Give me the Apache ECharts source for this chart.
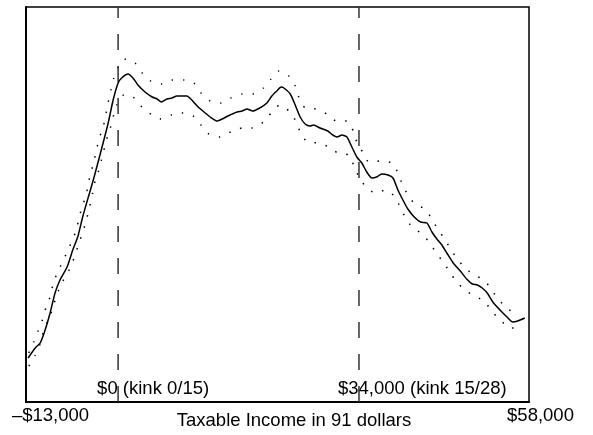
<!DOCTYPE html>
<html>
<head>
<meta charset="utf-8">
<title>Taxable Income in 91 dollars</title>
<script src="https://cdn.jsdelivr.net/npm/echarts@6/dist/echarts.min.js"></script>
<style>
    html, body { margin: 0; padding: 0; background: #fff; }
    #main { width: 593px; height: 435px; }
</style>
</head>
<body>
<div id="main"></div>
<script type="text/javascript">
    // income in thousands of 1991 dollars, density in plot units (no y scale shown)
    var estimate = [
        [-12.7,44],[-11.7,54],[-11.0,59],[-10.3,72],[-9.6,89],[-8.9,109],[-8.2,122],[-7.2,135],
        [-6.4,152],[-5.7,165],[-5.0,185],[-4.2,205],[-3.5,222],[-2.3,254],[-1.4,279],[-0.7,302],
        [0.0,319],[0.5,324],[1.4,328],[2.1,324],[2.8,317],[3.8,310],[4.8,305],[5.5,303],
        [6.1,300],[6.9,303],[7.6,304],[8.3,306],[9.0,306],[9.7,306],[10.4,302],[11.3,295],
        [12.3,289],[13.0,285],[14.0,281],[14.7,283],[15.5,286],[16.8,290],[17.5,291],[18.2,293],
        [19.0,291],[20.0,294],[21.0,299],[21.7,306],[22.4,311],[23.0,315],[23.4,314],[24.3,308],
        [25.0,297],[25.7,285],[26.4,278],[27.1,276],[27.6,277],[28.5,274],[29.6,271],[30.3,267],
        [30.9,265],[31.6,267],[32.3,265],[33.0,255],[33.7,245],[34.4,239],[35.1,230],[35.8,224],
        [36.5,225],[37.2,228],[38.1,227],[38.8,224],[39.5,212],[40.2,202],[40.9,193],[41.8,185],
        [42.7,180],[43.6,179],[44.3,170],[45.0,163],[45.7,157],[46.4,149],[47.3,139],[48.3,131],
        [49.2,123],[50.0,118],[50.7,117],[51.4,114],[52.1,109],[52.9,100],[53.9,92],[54.9,85],
        [55.7,80],[56.4,81],[57.4,84]
    ];
    var upperBand = [
        [-12.6,49],[-11.9,60],[-11.3,71],[-10.7,82],[-10.2,94],[-9.6,105],[-9.2,117],[-8.6,129],
        [-7.9,139],[-7.2,150],[-6.5,161],[-5.9,172],[-5.5,184],[-5.1,195],[-4.5,207],[-4.2,219],
        [-3.8,230],[-3.4,241],[-3.0,254],[-2.6,265],[-2.1,275],[-1.7,289],[-1.4,300],[-1.0,312],
        [-0.6,324],[0.1,336],[1.1,343],[2.4,339],[3.4,329],[4.6,321],[6.2,318],[7.7,322],
        [9.3,322],[10.7,319],[11.7,309],[13.0,301],[14.5,299],[15.9,304],[17.5,308],[19.0,308],
        [20.5,314],[21.6,323],[22.7,331],[24.1,326],[25.0,316],[25.5,305],[26.4,294],[27.9,293],
        [29.5,288],[30.8,281],[32.3,281],[33.2,271],[33.7,260],[34.6,249],[35.4,240],[37.1,241],
        [38.7,239],[39.5,229],[40.1,218],[40.9,207],[41.9,198],[43.3,193],[44.3,183],[45.1,173],
        [46.1,163],[47.0,152],[48.0,142],[49.1,133],[50.4,127],[51.8,121],[52.8,111],[53.8,102],
        [54.9,93],[56.4,89]
    ];
    var lowerBand = [
        [-12.6,36],[-11.7,47],[-11.0,58],[-10.6,69],[-10.0,80],[-9.3,92],[-8.8,104],[-8.2,115],
        [-7.5,125],[-6.6,136],[-6.1,147],[-5.5,159],[-5.0,170],[-4.5,181],[-4.1,193],[-3.7,205],
        [-3.4,217],[-2.8,230],[-2.4,241],[-2.0,252],[-1.6,263],[-1.1,274],[-0.7,285],[-0.2,297],
        [0.8,307],[2.1,305],[3.2,296],[4.4,289],[5.9,283],[7.5,287],[9.0,289],[10.6,286],
        [11.7,277],[12.8,268],[14.4,265],[15.9,270],[17.5,274],[19.0,274],[20.5,280],[21.6,289],
        [22.8,297],[24.1,291],[25.1,281],[25.7,270],[26.7,260],[28.2,259],[29.8,255],[31.0,249],
        [32.6,247],[33.3,236],[34.0,225],[35.0,215],[36.3,209],[37.8,212],[39.1,205],[39.8,195],
        [40.6,184],[41.5,175],[42.9,168],[44.0,159],[44.9,149],[45.9,140],[46.8,130],[47.8,120],
        [49.1,111],[50.4,106],[51.8,100],[52.8,90],[54.0,82],[55.2,74],[56.7,74]
    ];
    var kinks = [0, 34];
    var kinkLabels = ['$0 (kink 0/15)', '$34,000 (kink 15/28)'];
    var tickValues = [-13, 58];
    var tickLabels = ['\u2013$13,000', '$58,000'];
    var xTitle = 'Taxable Income in 91 dollars';

    var yMax = 395;
    var font = "'Liberation Sans', Arial, Helvetica, sans-serif";
    var fs = 18.5;

    var series = [];
    // dotted confidence band
    [upperBand, lowerBand].forEach(function (band) {
        series.push({
            type: 'line', data: band, symbol: 'none', smooth: 0.2, silent: true,
            lineStyle: { color: '#000', width: 1.5, type: [1.5, 10] }
        });
    });
    // dashed kink lines
    kinks.forEach(function (k) {
        series.push({
            type: 'line', data: [[k, 0], [k, yMax]], symbol: 'none', silent: true,
            lineStyle: { color: '#333', width: 1.5, type: [16, 16] }
        });
    });
    // kernel estimate
    series.push({
        type: 'line', data: estimate, symbol: 'none', smooth: 0.2, silent: true,
        lineStyle: { color: '#000', width: 1.5 }
    });
    // kink text
    series.push({
        type: 'scatter', symbolSize: 0, silent: true,
        itemStyle: { opacity: 1 },
        data: kinks.map(function (k) { return [k, 13.5]; }),
        label: {
            show: true, position: 'inside', align: 'left', verticalAlign: 'middle',
            offset: [-21, 0], color: '#000', fontSize: fs, fontFamily: font,
            formatter: function (p) { return kinkLabels[p.dataIndex]; }
        }
    });

    var myChart = echarts.init(document.getElementById('main'));
    myChart.setOption({
        animation: false,
        grid: {
            left: 26, right: 64, top: 7, bottom: 33,
            containLabel: false, outerBoundsMode: 'none',
            show: true, borderColor: '#000', borderWidth: 1.5
        },
        xAxis: {
            type: 'value', min: -13, max: 58,
            name: xTitle, nameLocation: 'middle', nameGap: 9, nameMoveOverlap: false,
            nameTextStyle: { color: '#000', fontSize: fs, fontFamily: font, padding: [0, 0, 0, 33] },
            axisLine: { show: true, onZero: false, lineStyle: { color: '#000', width: 2 } },
            axisTick: { show: false },
            splitLine: { show: false },
            axisLabel: {
                customValues: tickValues, margin: 4, color: '#000', fontSize: fs, fontFamily: font,
                formatter: function (v) {
                    return v === tickValues[0] ? '{l|' + tickLabels[0] + '}' : '{r|' + tickLabels[1] + '}';
                },
                rich: {
                    l: { fontSize: fs, fontFamily: font, color: '#000', padding: [0, 0, 0, 49] },
                    r: { fontSize: fs, fontFamily: font, color: '#000', padding: [0, 0, 0, 23] }
                }
            }
        },
        yAxis: {
            type: 'value', min: 0, max: yMax,
            axisLine: { show: true, onZero: false, lineStyle: { color: '#000', width: 2 } },
            axisTick: { show: false },
            axisLabel: { show: false },
            splitLine: { show: false }
        },
        series: series
    });
</script>
</body>
</html>
